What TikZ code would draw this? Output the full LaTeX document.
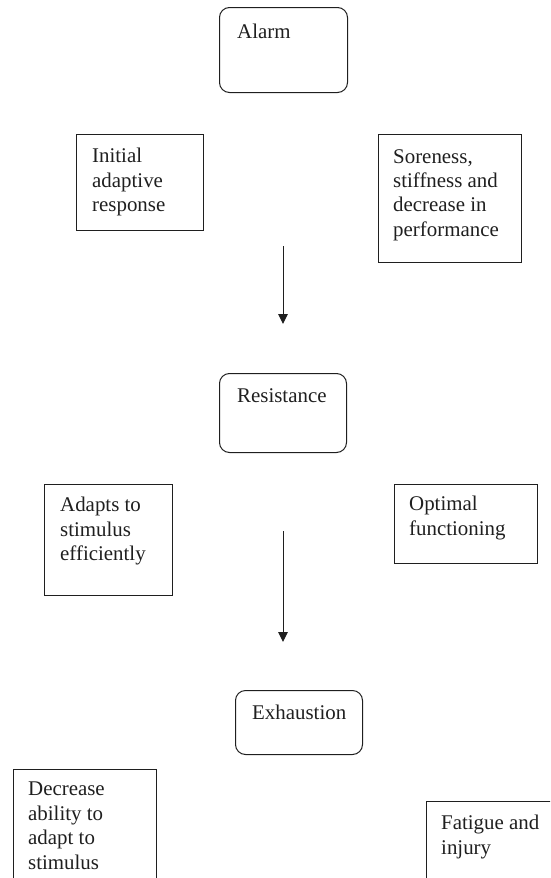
\documentclass[tikz,border=0pt]{standalone}
\usepackage{fontspec}
\setmainfont{Liberation Serif}
\usetikzlibrary{arrows.meta}
\begin{document}
\begin{tikzpicture}[x=1pt,y=-1pt,
  stagebox/.style={draw=black!88, line width=1pt, rounded corners=10pt, inner sep=0pt, anchor=north west},
  plainbox/.style={draw=black!88, line width=1pt, inner sep=0pt, anchor=north west},
  txt/.style={inner sep=0pt, anchor=north west, align=left, text=black!88,
    font=\fontsize{20.9}{24.4}\selectfont},
  flow/.style={draw=black!88, line width=1pt, -{Triangle[length=10pt,width=9.5pt]}}
]
\useasboundingbox (0,0) rectangle (550,878);
\clip (0,0) rectangle (550,878);

% Alarm
\node[stagebox, minimum width=128pt, minimum height=85pt] (alarm) at (219,7) {};
\node[txt] (alarmtext) at (237,24) {Alarm};

\node[plainbox, minimum width=127pt, minimum height=96pt] (initial) at (76,134) {};
\node[txt] (initialtext) at (92,148) {Initial\\adaptive\\response};

\node[plainbox, minimum width=143pt, minimum height=128pt] (soreness) at (378,134) {};
\node[txt] (sorenesstext) at (393,149) {Soreness,\\stiffness and\\decrease in\\performance};

\coordinate (a1s) at (283,246);
\coordinate (a1e) at (283,324);
\draw[flow] (a1s) -- (a1e);

% Resistance
\node[stagebox, minimum width=127pt, minimum height=79pt] (resistance) at (219,373) {};
\node[txt] (resistancetext) at (237,388) {Resistance};

\node[plainbox, minimum width=128pt, minimum height=111pt] (adapts) at (44,484) {};
\node[txt] (adaptstext) at (60,497) {Adapts to\\stimulus\\efficiently};

\node[plainbox, minimum width=143pt, minimum height=79pt] (optimal) at (394,484) {};
\node[txt] (optimaltext) at (409,496) {Optimal\\functioning};

\coordinate (a2s) at (283,531);
\coordinate (a2e) at (283,642);
\draw[flow] (a2s) -- (a2e);

% Exhaustion
\node[stagebox, minimum width=127pt, minimum height=64pt] (exhaustion) at (235,690) {};
\node[txt] (exhaustiontext) at (252,705) {Exhaustion};

\node[plainbox, minimum width=143pt, minimum height=140pt] (decrease) at (13,769) {};
\node[txt] (decreasetext) at (28,782) {Decrease\\ability to\\adapt to\\stimulus};

\node[plainbox, minimum width=160pt, minimum height=110pt] (fatigue) at (426,801) {};
\node[txt] (fatiguetext) at (441,815) {Fatigue and\\injury};
\end{tikzpicture}
\end{document}
